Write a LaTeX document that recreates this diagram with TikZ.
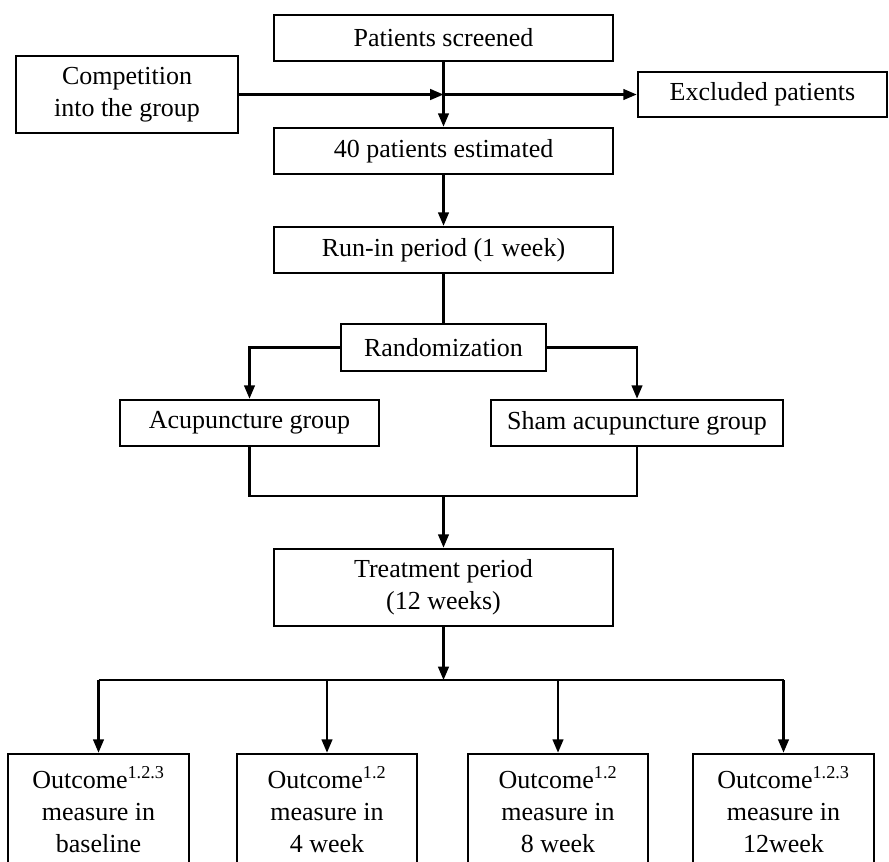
\documentclass[tikz,border=0pt]{standalone}
\usepackage{fontspec}
\setmainfont{Liberation Serif}
\usetikzlibrary{arrows.meta}
\tikzset{
  flowbox/.style={draw, line width=2pt, inner sep=0pt, align=center,
    font=\fontsize{19.5}{24}\selectfont},
  conn/.style={line width=1.6pt},
  arr/.style={conn, -{Triangle[length=10pt,width=8pt]}},
}
\begin{document}
\begin{tikzpicture}[x=0.75pt,y=-0.75pt]
\useasboundingbox (0,0) rectangle (889,861);
\fill[white] (0,0) rectangle (889,861);
% nodes
\node[flowbox, minimum width=254.25pt, minimum height=34.5pt] (scr) at (443.5,38) {Patients screened};
\node[flowbox, minimum width=166.5pt, minimum height=57.75pt] (comp) at (127,94.5) {Competition\\into the group};
\node[flowbox, minimum width=186.75pt, minimum height=33.75pt] (excl) at (762.5,94.5) {Excluded patients};
\node[flowbox, minimum width=254.25pt, minimum height=34.5pt] (est) at (443.5,151) {40 patients estimated};
\node[flowbox, minimum width=254.25pt, minimum height=34.5pt] (run) at (443.5,250) {Run-in period (1 week)};
\node[flowbox, minimum width=153.75pt, minimum height=35.25pt] (rand) at (443.5,347.5) {Randomization};
\node[flowbox, minimum width=194.25pt, minimum height=34.5pt] (acu) at (249.5,423) {Acupuncture group};
\node[flowbox, minimum width=219pt, minimum height=34.5pt] (sham) at (637,423) {Sham acupuncture group};
\node[flowbox, minimum width=254.25pt, minimum height=57.75pt] (treat) at (443.5,587.5) {Treatment period\\(12 weeks)};
\node[flowbox, minimum width=135.75pt, minimum height=84pt] (o1) at (98.5,810) {Outcome\textsuperscript{1.2.3}\\measure in\\baseline};
\node[flowbox, minimum width=135pt, minimum height=84pt] (o2) at (327,810) {Outcome\textsuperscript{1.2}\\measure in\\4 week};
\node[flowbox, minimum width=135pt, minimum height=84pt] (o3) at (558,810) {Outcome\textsuperscript{1.2}\\measure in\\8 week};
\node[flowbox, minimum width=135.75pt, minimum height=84pt] (o4) at (783.5,810) {Outcome\textsuperscript{1.2.3}\\measure in\\12week};
% helper coordinates
\coordinate (j1) at (scr.south |- comp.east);
\coordinate (bk) at (443.5,496);
\coordinate (hl) at (443.5,680);
% connectors
\draw[arr] (scr.south) -- (est.north);
\draw[arr] (comp.east) -- (j1);
\draw[arr] (j1) -- (excl.west);
\draw[arr] (est.south) -- (run.north);
\draw[conn] (run.south) -- (rand.north);
\draw[arr] (rand.west) -- (acu.north |- rand.west) -- (acu.north);
\draw[arr] (rand.east) -- (sham.north |- rand.east) -- (sham.north);
\draw[conn] (acu.south) -- (acu.south |- bk) -- (sham.south |- bk) -- (sham.south);
\draw[arr] (bk) -- (treat.north);
\draw[arr] (treat.south) -- (hl);
\draw[conn] (o1.north |- hl) -- (o4.north |- hl);
\draw[arr] (o1.north |- hl) -- (o1.north);
\draw[arr] (o2.north |- hl) -- (o2.north);
\draw[arr] (o3.north |- hl) -- (o3.north);
\draw[arr] (o4.north |- hl) -- (o4.north);
\end{tikzpicture}
\end{document}
